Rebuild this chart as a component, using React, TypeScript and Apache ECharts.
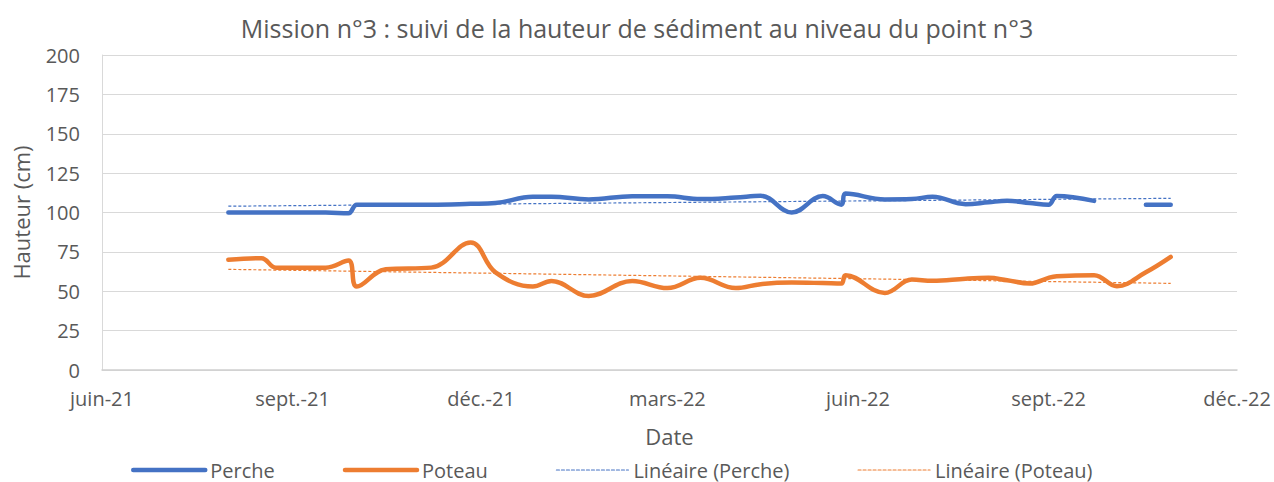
import React, { useEffect, useRef } from "react";
import * as echarts from "echarts";

const dates = [
  "2021-08-01", "2021-08-17", "2021-08-24", "2021-09-17", "2021-09-28", "2021-10-02",
  "2021-10-16", "2021-11-07", "2021-11-26", "2021-12-08", "2021-12-26", "2022-01-04",
  "2022-01-22", "2022-02-12", "2022-03-01", "2022-03-17", "2022-04-03", "2022-04-15",
  "2022-04-30", "2022-05-15", "2022-05-24", "2022-05-26", "2022-06-14", "2022-06-27",
  "2022-07-07", "2022-07-23", "2022-08-03", "2022-08-12", "2022-08-23", "2022-09-01",
  "2022-09-05", "2022-09-23", "2022-10-04", "2022-10-18", "2022-10-30",
];
const perche = [
  100, 100, 100, 100, 99.5, 105,
  105, 105, 105.5, 106, 110, 110,
  108.3, 110.3, 110.3, 108.5, 109.5, 110.6,
  100, 110.4, 105, 112, 108.3, 108.5,
  110, 105.3, 106.5, 107.4, 106, 105,
  110.4, 107.4, null, 105, 105,
];
const poteau = [
  70, 71, 65, 65, 69.5, 53,
  64, 65, 81, 62, 53, 56.5,
  47, 56.5, 52, 58.5, 52, 54.5,
  55.5, 55.2, 54.9, 60.2, 48.9, 57.4,
  56.6, 58, 58.5, 57, 54.9, 58.5,
  59.5, 60.2, 53.2, 62, 71.8,
];
const trendPerche = [104, 109];
const trendPoteau = [63.9, 55];

const xTickDates = ["2021-06-01", "2021-09-01", "2021-12-01", "2022-03-01", "2022-06-01", "2022-09-01", "2022-12-01"];
const xTickLabels = ["juin-21", "sept.-21", "déc.-21", "mars-22", "juin-22", "sept.-22", "déc.-22"];
const yTicks = [0, 25, 50, 75, 100, 125, 150, 175, 200];

const seriesNames = ["Perche", "Poteau", "Linéaire (Perche)", "Linéaire (Poteau)"];

// day number (since the first x tick) of an ISO date
function toDay(s: string): number {
  const [y, m, d] = s.split("-").map(Number);
  const [y0, m0, d0] = xTickDates[0].split("-").map(Number);
  return Math.round((Date.UTC(y, m - 1, d) - Date.UTC(y0, m0 - 1, d0)) / 86400000);
}

export default function App() {
  const ref = useRef<HTMLDivElement>(null);
  useEffect(() => {
    document.body.style.margin = "0";
    if (!ref.current) return;
    const chart = echarts.init(ref.current, undefined, { renderer: "svg" });
    const tickDays = xTickDates.map(toDay);
    const font = "'Open Sans', 'Noto Sans', sans-serif";
    const grey = "#595959";
    const trendDates = [dates[0], dates[dates.length - 1]];
    const legendWidths = [4.5, 4.5, 1.2, 1.2];
    chart.setOption({
      animation: false,
      textStyle: { fontFamily: font },
      title: {
        text: "Mission n°3 : suivi de la hauteur de sédiment au niveau du point n°3",
        left: "center",
        top: 10,
        textStyle: { fontFamily: font, fontSize: 25, fontWeight: "normal", color: grey },
      },
      grid: { left: 102, right: 37, top: 55, bottom: 112 },
      legend: {
        left: 126,
        top: 455,
        itemWidth: 72,
        itemHeight: 14,
        itemGap: 68,
        itemStyle: { opacity: 0, borderWidth: 0 },
        textStyle: { fontFamily: font, fontSize: 20, color: grey },
        data: seriesNames.map((n, i) => ({ name: n, lineStyle: { width: legendWidths[i], cap: "round" } })),
      },
      xAxis: {
        type: "value",
        min: tickDays[0],
        max: tickDays[tickDays.length - 1],
        name: "Date",
        nameLocation: "middle",
        nameGap: 55,
        nameTextStyle: { fontFamily: font, fontSize: 22, color: grey },
        axisLine: { show: true, lineStyle: { color: "#d0d0d0", width: 1.5 } },
        axisTick: { show: false },
        splitLine: { show: false },
        axisLabel: {
          customValues: tickDays,
          margin: 18,
          fontFamily: font,
          fontSize: 20,
          color: grey,
          showMinLabel: true,
          showMaxLabel: true,
          hideOverlap: false,
          formatter: (val: number) => {
            const i = tickDays.findIndex((t) => Math.abs(t - val) < 1);
            return i >= 0 ? xTickLabels[i] : "";
          },
        },
      },
      yAxis: {
        type: "value",
        min: yTicks[0],
        max: yTicks[yTicks.length - 1],
        interval: 25,
        name: "Hauteur (cm)",
        nameLocation: "middle",
        nameGap: 70,
        nameTextStyle: { fontFamily: font, fontSize: 22, color: grey },
        axisLine: { show: true, lineStyle: { color: "#d9d9d9", width: 1 } },
        axisTick: { show: false },
        splitLine: { show: true, lineStyle: { color: "#d9d9d9", width: 1.2 } },
        axisLabel: { margin: 22, fontFamily: font, fontSize: 20, color: grey },
      },
      series: [
        {
          name: seriesNames[0],
          type: "line",
          smooth: 0.4,
          symbol: "none",
          connectNulls: false,
          lineStyle: { color: "#4472C4", width: 4.5, cap: "round", join: "round" },
          itemStyle: { color: "#4472C4" },
          data: dates.map((d, i) => [toDay(d), perche[i]]),
          z: 3,
        },
        {
          name: seriesNames[1],
          type: "line",
          smooth: 0.4,
          symbol: "none",
          lineStyle: { color: "#ED7D31", width: 4.5, cap: "round", join: "round" },
          itemStyle: { color: "#ED7D31" },
          data: dates.map((d, i) => [toDay(d), poteau[i]]),
          z: 3,
        },
        {
          name: seriesNames[2],
          type: "line",
          symbol: "none",
          lineStyle: { color: "#4472C4", width: 1.2, type: [3, 2] },
          itemStyle: { color: "#4472C4" },
          data: trendDates.map((d, i) => [toDay(d), trendPerche[i]]),
          z: 4,
        },
        {
          name: seriesNames[3],
          type: "line",
          symbol: "none",
          lineStyle: { color: "#ED7D31", width: 1.2, type: [3, 2] },
          itemStyle: { color: "#ED7D31" },
          data: trendDates.map((d, i) => [toDay(d), trendPoteau[i]]),
          z: 4,
        },
      ],
    });
    return () => chart.dispose();
  }, []);
  return <div ref={ref} style={{ width: 1274, height: 482 }} />;
}
